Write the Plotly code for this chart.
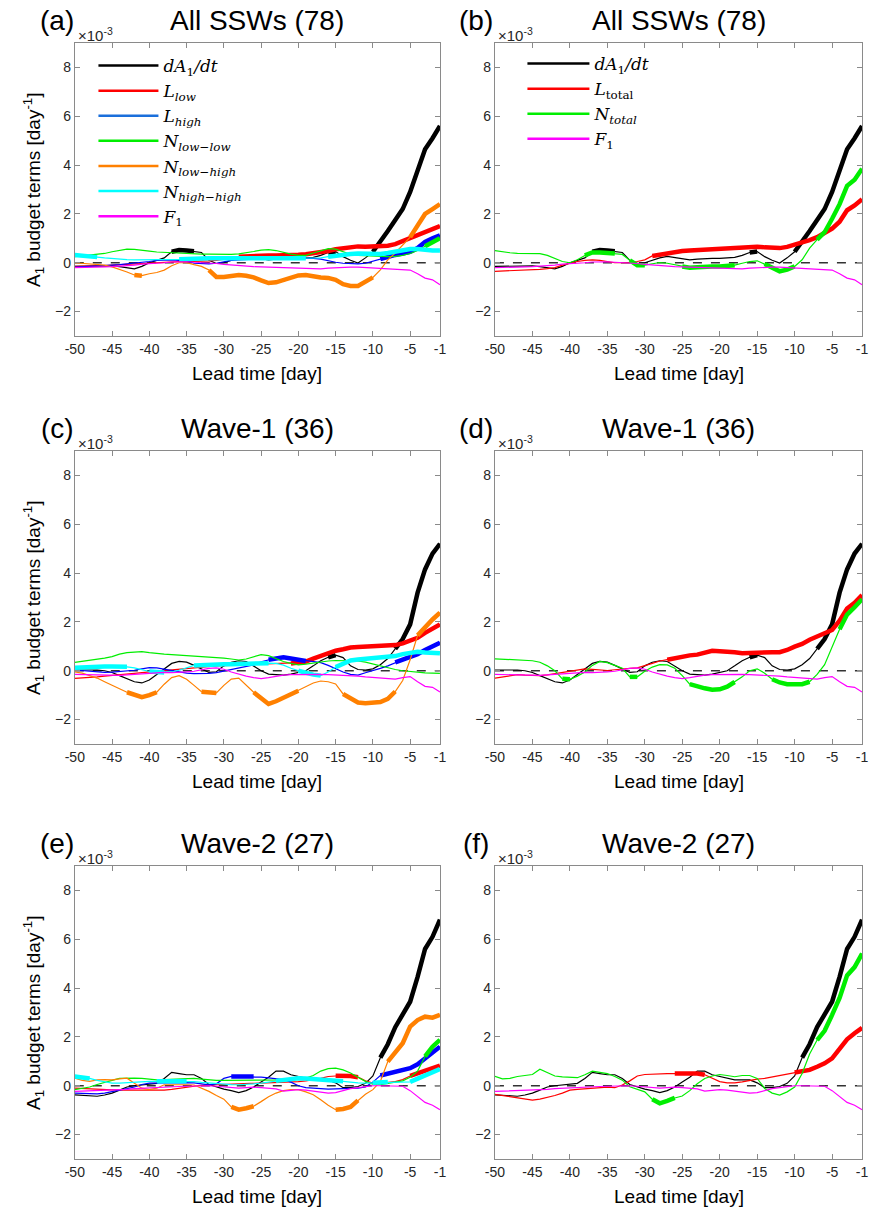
import plotly.graph_objects as go

W, H = 872, 1216

lead = list(range(-50, 0))
xticks = [-50, -45, -40, -35, -30, -25, -20, -15, -10, -5, -1]
yticks = [-2, 0, 2, 4, 6, 8]

# ---- All SSWs (78) ----
dadt_all = [-0.15, -0.15, -0.14, -0.13, -0.12, -0.13, -0.16, -0.22, -0.25, -0.15,
            0.0, 0.1, 0.2, 0.45, 0.52, 0.5, 0.47, 0.42, 0.1, -0.03,
            0.0, 0.1, 0.2, 0.26, 0.22, 0.16, 0.12, 0.15, 0.18, 0.18,
            0.18, 0.2, 0.22, 0.3, 0.42, 0.46, 0.25, 0.1, -0.01, 0.2,
            0.45, 0.85, 1.3, 1.75, 2.2, 2.9, 3.8, 4.65, 5.1, 5.6]
l_low_all = [-0.15, -0.15, -0.14, -0.13, -0.12, -0.1, -0.08, -0.06, -0.04, -0.02,
             0.0, 0.02, 0.04, 0.05, 0.05, 0.05, 0.05, 0.06, 0.08, 0.1,
             0.15, 0.2, 0.25, 0.27, 0.28, 0.3, 0.3, 0.3, 0.3, 0.32,
             0.33, 0.35, 0.38, 0.42, 0.48, 0.55, 0.6, 0.65, 0.67, 0.66,
             0.66, 0.67, 0.7, 0.76, 0.88, 1.02, 1.14, 1.27, 1.4, 1.5]
l_high_all = [-0.18, -0.17, -0.16, -0.15, -0.12, -0.1, -0.08, -0.05, -0.02, 0.0,
              0.05, 0.1, 0.12, 0.12, 0.1, 0.08, -0.02, -0.05, -0.05, -0.02,
              0.05, 0.1, 0.12, 0.15, 0.15, 0.15, 0.15, 0.15, 0.18, 0.2,
              0.2, 0.2, 0.18, 0.15, 0.08, 0.02, -0.02, -0.05, -0.05, -0.02,
              0.05, 0.15, 0.25, 0.32, 0.38, 0.45, 0.6, 0.85, 1.0, 1.12]
n_ll_all = [0.25, 0.28, 0.3, 0.33, 0.38, 0.45, 0.52, 0.56, 0.55, 0.53,
            0.48, 0.44, 0.42, 0.4, 0.38, 0.36, 0.35, 0.35, 0.35, 0.34,
            0.34, 0.34, 0.36, 0.4, 0.46, 0.52, 0.54, 0.5, 0.42, 0.35,
            0.3, 0.3, 0.4, 0.5, 0.58, 0.56, 0.45, 0.35, 0.3, 0.28,
            0.27, 0.26, 0.25, 0.26, 0.3, 0.38, 0.5, 0.68, 0.85, 1.0]
n_lh_all = [0.0, -0.02, -0.04, -0.05, -0.1, -0.17, -0.26, -0.38, -0.5, -0.53,
            -0.45, -0.4, -0.3, -0.12, 0.0, 0.0, -0.08, -0.15, -0.3, -0.58,
            -0.58, -0.55, -0.5, -0.53, -0.6, -0.72, -0.83, -0.8, -0.7, -0.6,
            -0.52, -0.5, -0.56, -0.6, -0.62, -0.7, -0.88, -0.95, -0.95, -0.78,
            -0.6, -0.29, 0.12, 0.4, 0.73, 1.05, 1.5, 2.0, 2.2, 2.4]
n_hh_all = [0.32, 0.3, 0.27, 0.23, 0.2, 0.17, 0.14, 0.13, 0.12, 0.12,
            0.12, 0.12, 0.12, 0.12, 0.14, 0.16, 0.18, 0.18, 0.18, 0.18,
            0.18, 0.19, 0.2, 0.2, 0.2, 0.2, 0.2, 0.2, 0.19, 0.19,
            0.19, 0.18, 0.17, 0.2, 0.25, 0.3, 0.33, 0.36, 0.38, 0.36,
            0.34, 0.36, 0.4, 0.45, 0.5, 0.56, 0.56, 0.52, 0.5, 0.5]
f1_all = [-0.2, -0.2, -0.19, -0.18, -0.17, -0.16, -0.15, -0.12, -0.1, -0.06,
          -0.03, -0.01, 0.0, 0.03, 0.05, 0.04, 0.02, 0.01, 0.0, -0.03,
          -0.07, -0.1, -0.13, -0.15, -0.16, -0.17, -0.18, -0.2, -0.21, -0.22,
          -0.23, -0.24, -0.24, -0.25, -0.22, -0.2, -0.18, -0.18, -0.18, -0.2,
          -0.21, -0.22, -0.26, -0.26, -0.27, -0.3, -0.45, -0.63, -0.7, -0.9]
l_total_all = [-0.35, -0.34, -0.32, -0.31, -0.3, -0.29, -0.27, -0.24, -0.2, -0.1,
               -0.02, 0.05, 0.1, 0.12, 0.1, 0.05, 0.0, 0.0, 0.0, 0.05,
               0.12, 0.28, 0.34, 0.39, 0.44, 0.48, 0.5, 0.52, 0.54, 0.56,
               0.56, 0.56, 0.58, 0.62, 0.65, 0.66, 0.63, 0.6, 0.6, 0.65,
               0.73, 0.82, 0.93, 1.05, 1.2, 1.4, 1.68, 2.15, 2.35, 2.6]
n_total_all = [0.5, 0.44, 0.41, 0.38, 0.37, 0.37, 0.37, 0.3, 0.18, 0.05,
               0.0, 0.12, 0.3, 0.42, 0.42, 0.4, 0.38, 0.34, 0.1, -0.1,
               -0.1, -0.05, 0.01, -0.02, -0.08, -0.15, -0.2, -0.18, -0.15, -0.15,
               -0.15, -0.13, -0.1, -0.02, 0.05, 0.08, -0.05, -0.2, -0.35, -0.28,
               -0.15, 0.12, 0.6, 0.95, 1.25, 1.8, 2.4, 3.15, 3.4, 3.85]

# ---- Wave-1 (36) ----
dadt_w1 = [0.03, 0.04, 0.04, 0.03, 0.0, -0.07, -0.2, -0.34, -0.45, -0.5,
           -0.38, -0.15, 0.07, 0.3, 0.38, 0.35, 0.22, 0.08, -0.07, -0.04,
           0.2, 0.35, 0.41, 0.38, 0.2, 0.0, -0.14, -0.16, -0.18, -0.14,
           -0.08, 0.0, 0.2, 0.41, 0.55, 0.64, 0.54, 0.2, 0.05, 0.03,
           0.08, 0.25, 0.5, 0.9, 1.3, 1.9, 3.2, 4.15, 4.8, 5.2]
l_low_w1 = [-0.31, -0.3, -0.28, -0.25, -0.22, -0.2, -0.17, -0.14, -0.11, -0.08,
            -0.05, -0.02, 0.01, 0.04, 0.07, 0.1, 0.13, 0.16, 0.18, 0.2,
            0.21, 0.22, 0.23, 0.24, 0.25, 0.26, 0.26, 0.27, 0.28, 0.3,
            0.33, 0.38, 0.5, 0.62, 0.72, 0.82, 0.88, 0.95, 0.97, 0.99,
            1.0, 1.01, 1.02, 1.05, 1.12, 1.22, 1.35, 1.55, 1.75, 1.9]
l_high_w1 = [0.03, 0.0, -0.04, -0.07, -0.07, -0.06, -0.04, -0.02, 0.02, 0.08,
             0.13, 0.12, 0.07, 0.0, -0.06, -0.1, -0.12, -0.13, -0.11, -0.08,
             -0.02, 0.05, 0.12, 0.18, 0.24, 0.37, 0.45, 0.52, 0.55, 0.5,
             0.45, 0.4, 0.36, 0.33, 0.22, 0.07, -0.05, -0.15, -0.18, -0.08,
             0.0, 0.1, 0.2, 0.34, 0.45, 0.54, 0.68, 0.85, 1.0, 1.15]
n_ll_w1 = [0.34, 0.38, 0.42, 0.46, 0.52, 0.58, 0.68, 0.74, 0.77, 0.78,
           0.74, 0.7, 0.68, 0.66, 0.64, 0.62, 0.61, 0.6, 0.58, 0.55,
           0.52, 0.48, 0.44, 0.48, 0.58, 0.66, 0.62, 0.5, 0.38, 0.3,
           0.24, 0.27, 0.32, 0.36, 0.4, 0.42, 0.42, 0.41, 0.4, 0.35,
           0.27, 0.2, 0.1, 0.05, 0.0, -0.04, -0.07, -0.09, -0.1, -0.11]
n_lh_w1 = [-0.05, -0.1, -0.2, -0.3, -0.45, -0.6, -0.75, -0.88, -1.0, -1.08,
           -1.0, -0.88, -0.55, -0.28, -0.2, -0.35, -0.6, -0.86, -0.9, -0.91,
           -0.6, -0.34, -0.3, -0.6, -0.88, -1.15, -1.36, -1.25, -1.1, -0.95,
           -0.82, -0.65, -0.5, -0.42, -0.45, -0.54, -0.95, -1.15, -1.3, -1.33,
           -1.3, -1.28, -1.15, -0.85, -0.4, 0.45, 1.45, 1.8, 2.1, 2.38]
n_hh_w1 = [0.12, 0.14, 0.15, 0.16, 0.17, 0.17, 0.17, 0.16, 0.12, 0.05,
           -0.03, -0.06, -0.07, -0.05, 0.02, 0.12, 0.22, 0.24, 0.25, 0.26,
           0.27, 0.27, 0.27, 0.28, 0.29, 0.3, 0.31, 0.3, 0.23, 0.1,
           0.0, -0.1, -0.16, -0.2, -0.05, 0.15, 0.3, 0.42, 0.46, 0.48,
           0.5, 0.52, 0.54, 0.6, 0.68, 0.75, 0.78, 0.75, 0.73, 0.72]
f1_w1 = [-0.15, -0.16, -0.17, -0.18, -0.19, -0.2, -0.19, -0.17, -0.15, -0.13,
         -0.1, -0.08, -0.07, -0.08, -0.08, -0.05, -0.02, 0.05, 0.1, 0.12,
         0.06, -0.05, -0.15, -0.22, -0.28, -0.32, -0.28, -0.22, -0.18, -0.16,
         -0.15, -0.14, -0.14, -0.15, -0.16, -0.17, -0.18, -0.2, -0.22, -0.25,
         -0.27, -0.3, -0.32, -0.34, -0.28, -0.24, -0.45, -0.64, -0.68, -0.87]
l_total_w1 = [-0.3, -0.25, -0.18, -0.16, -0.18, -0.2, -0.2, -0.17, -0.12, -0.08,
              -0.02, 0.04, 0.08, 0.06, 0.03, 0.01, 0.04, 0.08, 0.1, 0.12,
              0.2, 0.3, 0.4, 0.45, 0.52, 0.6, 0.63, 0.66, 0.74, 0.82,
              0.8, 0.79, 0.76, 0.72, 0.74, 0.76, 0.77, 0.76, 0.76, 0.85,
              0.99, 1.1, 1.27, 1.42, 1.55, 1.67, 2.05, 2.55, 2.78, 3.1]
n_total_w1 = [0.49, 0.48, 0.47, 0.45, 0.43, 0.41, 0.35, 0.2, 0.0, -0.33,
              -0.35, -0.22, -0.05, 0.22, 0.38, 0.33, 0.22, 0.1, -0.25, -0.25,
              -0.02, 0.15, 0.25, 0.24, 0.1, -0.2, -0.55, -0.65, -0.72, -0.78,
              -0.76, -0.65, -0.46, -0.25, 0.0, 0.08, -0.1, -0.35, -0.48, -0.55,
              -0.57, -0.55, -0.45, -0.15, 0.25, 1.0, 1.7, 2.3, 2.6, 2.93]

# ---- Wave-2 (27) ----
dadt_w2 = [-0.37, -0.4, -0.42, -0.43, -0.38, -0.3, -0.18, -0.05, 0.0, 0.03,
           0.06, 0.1, 0.3, 0.55, 0.5, 0.45, 0.45, 0.3, 0.05, -0.05,
           -0.14, -0.2, -0.28, -0.2, -0.05, 0.15, 0.35, 0.6, 0.6, 0.45,
           0.38, 0.3, 0.24, 0.24, 0.24, 0.12, -0.08, -0.08, -0.03, 0.1,
           0.4, 1.15, 1.7, 2.4, 2.96, 3.44, 4.46, 5.6, 6.1, 6.8]
l_low_w2 = [-0.1, -0.12, -0.14, -0.15, -0.16, -0.17, -0.18, -0.18, -0.19, -0.19,
            -0.19, -0.19, -0.18, -0.15, -0.1, -0.05, 0.0, 0.02, 0.03, 0.04,
            0.04, 0.05, 0.07, 0.09, 0.1, 0.11, 0.12, 0.13, 0.14, 0.15,
            0.17, 0.2, 0.24, 0.3, 0.38, 0.41, 0.42, 0.4, 0.35, 0.2,
            0.11, 0.1, 0.13, 0.17, 0.25, 0.4, 0.5, 0.6, 0.7, 0.82]
l_high_w2 = [-0.3, -0.31, -0.32, -0.33, -0.3, -0.25, -0.2, -0.12, -0.05, 0.05,
             0.11, 0.12, 0.13, 0.14, 0.14, 0.13, 0.12, 0.08, 0.04, 0.08,
             0.3, 0.38, 0.38, 0.38, 0.38, 0.35, 0.32, 0.3, 0.25, 0.15,
             0.0, -0.08, -0.1, -0.13, -0.14, -0.13, -0.12, -0.11, -0.1, -0.05,
             0.15, 0.42, 0.5, 0.58, 0.65, 0.72, 0.88, 1.13, 1.35, 1.6]
n_ll_w2 = [-0.16, -0.12, -0.05, 0.05, 0.15, 0.22, 0.3, 0.32, 0.31, 0.3,
           0.27, 0.24, 0.25, 0.27, 0.29, 0.31, 0.3, 0.27, 0.24, 0.22,
           0.22, 0.22, 0.23, 0.24, 0.24, 0.24, 0.24, 0.24, 0.24, 0.24,
           0.26, 0.31, 0.42, 0.6, 0.7, 0.72, 0.65, 0.52, 0.35, 0.18,
           0.06, 0.04, 0.1, 0.14, 0.2, 0.35, 0.6, 1.2, 1.6, 1.88]
n_lh_w2 = [0.31, 0.22, 0.18, 0.24, 0.25, 0.24, 0.28, 0.31, 0.1, -0.1,
           -0.16, -0.1, 0.04, 0.05, 0.05, 0.04, 0.03, -0.1, -0.23, -0.4,
           -0.55, -0.87, -0.98, -0.92, -0.84, -0.65, -0.45, -0.3, -0.2, -0.16,
           -0.16, -0.25, -0.37, -0.57, -0.8, -0.98, -0.95, -0.87, -0.6, -0.35,
           -0.16, 0.18, 0.99, 1.4, 1.74, 2.42, 2.69, 2.83, 2.79, 2.9]
n_hh_w2 = [0.38, 0.34, 0.3, 0.22, 0.15, 0.11, 0.11, 0.13, 0.16, 0.18,
           0.18, 0.18, 0.18, 0.18, 0.18, 0.18, 0.17, 0.14, 0.11, 0.08,
           0.06, 0.05, 0.04, 0.05, 0.08, 0.11, 0.15, 0.2, 0.24, 0.28,
           0.31, 0.3, 0.27, 0.24, 0.22, 0.2, 0.18, 0.14, 0.12, 0.11,
           0.12, 0.14, 0.15, 0.14, 0.14, 0.16, 0.3, 0.42, 0.55, 0.68]
f1_w2 = [-0.23, -0.22, -0.21, -0.2, -0.2, -0.19, -0.17, -0.15, -0.12, -0.1,
         -0.09, -0.07, -0.05, -0.04, -0.03, -0.02, -0.01, 0.0, 0.0, -0.02,
         -0.05, -0.08, -0.1, -0.08, -0.06, -0.08, -0.1, -0.13, -0.22, -0.2,
         -0.16, -0.18, -0.22, -0.26, -0.3, -0.28, -0.2, -0.12, -0.08, -0.04,
         0.0, 0.0, 0.0, 0.0, -0.02, -0.2, -0.45, -0.68, -0.8, -0.98]
l_total_w2 = [-0.35, -0.4, -0.45, -0.5, -0.55, -0.59, -0.55, -0.48, -0.4, -0.3,
              -0.18, -0.15, -0.13, -0.1, -0.06, -0.06, -0.08, 0.03, 0.2, 0.4,
              0.46, 0.48, 0.5, 0.5, 0.5, 0.5, 0.5, 0.5, 0.45, 0.32,
              0.17, 0.12, 0.12, 0.16, 0.22, 0.27, 0.3, 0.36, 0.42, 0.46,
              0.54, 0.58, 0.65, 0.78, 0.92, 1.12, 1.5, 1.9, 2.15, 2.37]
n_total_w2 = [0.39, 0.28, 0.3, 0.38, 0.42, 0.46, 0.68, 0.55, 0.4, 0.36,
              0.34, 0.33, 0.45, 0.6, 0.55, 0.5, 0.38, 0.23, -0.04, -0.15,
              -0.25, -0.55, -0.72, -0.62, -0.5, -0.42, -0.2, 0.08, 0.3, 0.4,
              0.46, 0.42, 0.37, 0.42, 0.42, 0.3, -0.11, -0.3, -0.38, -0.25,
              -0.05, 0.5, 1.3, 1.87, 2.25, 2.9, 3.6, 4.52, 4.86, 5.41]

# significant periods (drawn thick), [first, last] lead day
sig = {
    "dadt_all": [[-37, -34], [-16, -15], [-10, -1]],
    "l_low_all": [[-28, -1]],
    "l_high_all": [[-9, -1]],
    "n_ll_all": [[-3, -1]],
    "n_lh_all": [[-42, -41], [-32, -10], [-5, -1]],
    "n_hh_all": [[-50, -47], [-36, -19], [-16, -1]],
    "l_total_all": [[-29, -1]],
    "n_total_all": [[-38, -34], [-32, -30], [-25, -18], [-14, -10], [-7, -1]],
    "dadt_w1": [[-16, -15], [-7, -1]],
    "l_low_w1": [[-21, -1]],
    "l_high_w1": [[-24, -19], [-7, -1]],
    "n_lh_w1": [[-43, -39], [-33, -31], [-26, -20], [-14, -7], [-4, -1]],
    "n_hh_w1": [[-50, -43], [-40, -38], [-34, -24], [-20, -17], [-15, -1]],
    "l_total_w1": [[-27, -1]],
    "n_total_w1": [[-41, -40], [-32, -31], [-24, -18], [-13, -8], [-4, -1]],
    "dadt_w2": [[-9, -1]],
    "l_low_w2": [[-15, -12], [-5, -1]],
    "l_high_w2": [[-29, -26], [-9, -1]],
    "n_ll_w2": [[-3, -1]],
    "n_lh_w2": [[-29, -26], [-15, -12], [-8, -1]],
    "n_hh_w2": [[-50, -48], [-39, -35], [-23, -14], [-10, -8], [-5, -1]],
    "l_total_w2": [[-26, -22], [-10, -1]],
    "n_total_w2": [[-29, -26], [-7, -1]],
}

data = {
    "dadt_all": dadt_all, "l_low_all": l_low_all, "l_high_all": l_high_all,
    "n_ll_all": n_ll_all, "n_lh_all": n_lh_all, "n_hh_all": n_hh_all,
    "f1_all": f1_all, "l_total_all": l_total_all, "n_total_all": n_total_all,
    "dadt_w1": dadt_w1, "l_low_w1": l_low_w1, "l_high_w1": l_high_w1,
    "n_ll_w1": n_ll_w1, "n_lh_w1": n_lh_w1, "n_hh_w1": n_hh_w1,
    "f1_w1": f1_w1, "l_total_w1": l_total_w1, "n_total_w1": n_total_w1,
    "dadt_w2": dadt_w2, "l_low_w2": l_low_w2, "l_high_w2": l_high_w2,
    "n_ll_w2": n_ll_w2, "n_lh_w2": n_lh_w2, "n_hh_w2": n_hh_w2,
    "f1_w2": f1_w2, "l_total_w2": l_total_w2, "n_total_w2": n_total_w2,
}

colors = {"dadt": "#000000", "l_low": "#FF0000", "l_high": "#0000FF",
          "n_ll": "#00EE00", "n_lh": "#FF8000", "n_hh": "#00FFFF",
          "f1": "#FF00FF", "l_total": "#FF0000", "n_total": "#00EE00"}
leg_colors = dict(colors, l_high="#1A6FDB")
labels = {
    "dadt": "<i>dA</i><sub>1</sub><i>/dt</i>",
    "l_low": "<i>L<sub>low</sub></i>",
    "l_high": "<i>L<sub>high</sub></i>",
    "n_ll": "<i>N<sub>low\u2212low</sub></i>",
    "n_lh": "<i>N<sub>low\u2212high</sub></i>",
    "n_hh": "<i>N<sub>high\u2212high</sub></i>",
    "f1": "<i>F</i><sub>1</sub>",
    "l_total": "<i>L</i><sub>total</sub>",
    "n_total": "<i>N<sub>total</sub></i>",
}

left_terms = ["dadt", "l_low", "l_high", "n_ll", "n_lh", "n_hh", "f1"]
right_terms = ["dadt", "l_total", "n_total", "f1"]

# panel: (letter, title, case, terms, column, row, legend)
panels = [
    ("(a)", "All SSWs (78)", "all", left_terms, 0, 0, "legend"),
    ("(b)", "All SSWs (78)", "all", right_terms, 1, 0, "legend2"),
    ("(c)", "Wave-1 (36)", "w1", left_terms, 0, 1, None),
    ("(d)", "Wave-1 (36)", "w1", right_terms, 1, 1, None),
    ("(e)", "Wave-2 (27)", "w2", left_terms, 0, 2, None),
    ("(f)", "Wave-2 (27)", "w2", right_terms, 1, 2, None),
]

col_px = [(66, 438), (494, 868)]
row_px = [(43, 336), (451, 744), (866, 1159)]
AX = "#8a8a8a"
TXT = "#262626"
SANS = "Liberation Sans, Arial, sans-serif"


def pxx(v):
    return v / W


def pxy(v):
    return 1 - v / H


def thick(vals, spans):
    out = []
    for t, v in zip(lead, vals):
        out.append(v if any(a <= t <= b for a, b in spans) else None)
    return out


def note(text, x, y, size, color="black", **kw):
    d = dict(text=text, x=pxx(x), y=pxy(y), xref="paper", yref="paper",
             xanchor="center", yanchor="middle", showarrow=False,
             font=dict(family=SANS, size=size, color=color))
    d.update(kw)
    return d


fig = go.Figure()
layout = dict(width=W, height=H, margin=dict(l=0, r=0, t=0, b=0),
              paper_bgcolor="white", plot_bgcolor="white", showlegend=True)
annotations = []

for i, (letter, title, case, terms, c, r, leg) in enumerate(panels):
    n = "" if i == 0 else str(i + 1)
    xa, ya = "x" + n, "y" + n
    x0, x1 = col_px[c]
    y0, y1 = row_px[r]
    layout["xaxis" + n] = dict(
        domain=[pxx(x0), pxx(x1)], anchor=ya, range=[-50, -1],
        tickvals=xticks, ticktext=[str(t) for t in xticks])
    layout["yaxis" + n] = dict(
        domain=[pxy(y1), pxy(y0)], anchor=xa, range=[-3, 9], tickvals=yticks)
    for ax in ("xaxis" + n, "yaxis" + n):
        layout[ax].update(showline=True, linecolor=AX, linewidth=1,
                          mirror="ticks", ticks="inside", ticklen=5,
                          tickcolor=AX, showgrid=False, zeroline=False,
                          tickfont=dict(family=SANS, size=14, color=TXT))

    # zero reference line
    fig.add_trace(go.Scatter(x=[-50, -1], y=[0, 0], mode="lines", xaxis=xa,
                             yaxis=ya, showlegend=False, hoverinfo="skip",
                             line=dict(color="#333333", width=1.3, dash="dash")))
    for term in terms:
        key = term + "_" + case
        vals = data[key]
        fig.add_trace(go.Scatter(x=lead, y=vals, mode="lines", xaxis=xa,
                                 yaxis=ya, showlegend=False,
                                 line=dict(color=colors[term], width=1.2)))
        if key in sig:
            fig.add_trace(go.Scatter(x=lead, y=thick(vals, sig[key]),
                                     mode="lines", xaxis=xa, yaxis=ya,
                                     showlegend=False, connectgaps=False,
                                     line=dict(color=colors[term], width=4.5)))
        if leg:
            fig.add_trace(go.Scatter(x=[None], y=[None], mode="lines",
                                     xaxis=xa, yaxis=ya, legend=leg,
                                     name=labels[term], showlegend=True,
                                     line=dict(color=leg_colors[term], width=2.5)))

    cx = (x0 + x1) / 2
    annotations.append(note(title, cx, y0 - 23, 28))
    annotations.append(note(letter, 48 if c == 0 else 475, y0 - 23, 28))
    annotations.append(note("\u00d710<sup>-3</sup>", x0 + 1, y0 - 9, 15, TXT,
                            xanchor="left"))
    annotations.append(note("Lead time [day]", cx, y1 + 37, 19))
    if c == 0:
        annotations.append(note("A<sub>1</sub> budget terms [day<sup>-1</sup>]",
                                24, (y0 + y1) / 2, 19, textangle=-90))

leg_font = dict(family="DejaVu Serif, serif", size=17, color="black")
layout["legend"] = dict(x=pxx(85), y=pxy(48), xanchor="left", yanchor="top",
                        bgcolor="rgba(0,0,0,0)", borderwidth=0, itemwidth=60,
                        font=leg_font, traceorder="normal")
layout["legend2"] = dict(x=pxx(522), y=pxy(46), xanchor="left", yanchor="top",
                         bgcolor="rgba(0,0,0,0)", borderwidth=0, itemwidth=62,
                         font=leg_font, traceorder="normal")
layout["annotations"] = annotations
fig.update_layout(**layout)

# drop the browser's default page margin so the figure fills the window
fig.write_html("out.html", config={"displayModeBar": False},
               post_script="document.body.style.margin='0';")
